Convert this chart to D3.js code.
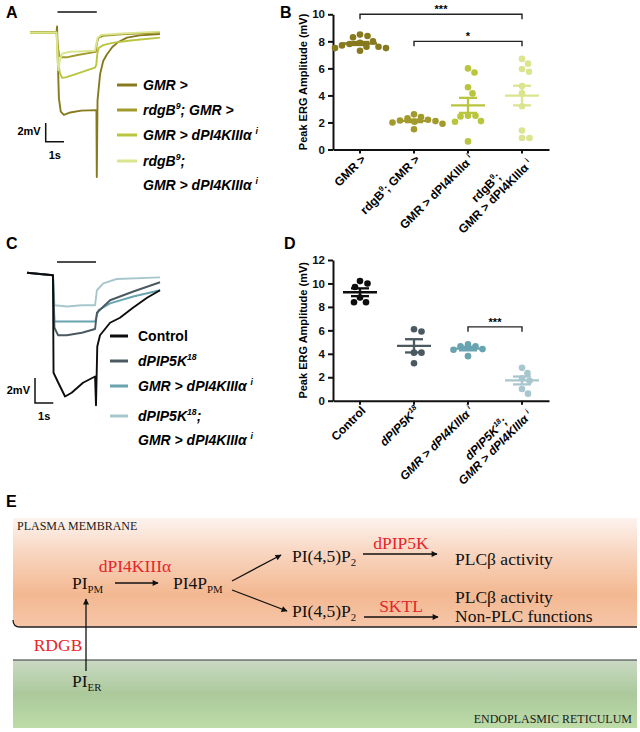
<!DOCTYPE html>
<html>
<head>
<meta charset="utf-8">
<script src="https://cdn.jsdelivr.net/npm/d3@7"></script>
<style>
  body { margin: 0; background: #fff; }
  svg { display: block; font-family: "Liberation Sans", Arial, sans-serif; }
</style>
</head>
<body>
<script>
// ---------- A: ERG traces, [time (s), response (mV)] ----------
var traceGMR = [[0,0],[1.45,0.05],[1.48,0.7],[1.52,-3],[1.58,-7],[1.68,-8.4],[1.85,-8.75],[2.2,-8.5],[2.8,-8.3],[3.6,-8.25],[3.63,-8.3],[3.65,-15.4],[3.69,-7.2],[3.83,-4.4],[4.0,-3.0],[4.2,-2.3],[4.5,-1.5],[4.8,-1.0],[5.3,-0.5],[6.0,-0.25],[7.1,-0.1]];
var traceRdgB = [[0,0.1],[1.45,0.1],[1.52,-1.5],[1.6,-2.4],[1.7,-2.6],[2.0,-2.6],[2.6,-2.35],[3.2,-2.15],[3.6,-2.0],[3.66,-1.0],[3.75,-0.5],[4.0,-0.3],[5.0,-0.15],[7.1,0.05]];
var tracePI4K = [[0,0],[1.45,0],[1.52,-2.5],[1.62,-4.2],[1.75,-4.8],[1.95,-4.75],[2.5,-4.4],[3.1,-4.0],[3.55,-3.7],[3.62,-3.4],[3.68,-2.2],[3.75,-1.6],[4.0,-1.3],[4.5,-1.05],[5.5,-0.8],[7.1,-0.5]];
var traceRdgBPI4K = [[0,0.05],[1.45,0.05],[1.5,-2.5],[1.55,-4.0],[1.62,-3.0],[1.75,-2.2],[2.2,-2.0],[3.0,-1.95],[3.55,-1.9],[3.62,-1.2],[3.7,-0.5],[3.9,-0.2],[5.0,-0.05],[7.1,0.15]];
var legendA = ["GMR >", "rdgB^9^; GMR >", "GMR > dPI4KIIIα ^i^", "rdgB^9^;|GMR > dPI4KIIIα ^i^"];
var colorsA = ["#877a1e", "#a29a2c", "#bac53f", "#dbe48e"];

// ---------- C: ERG traces ----------
var traceControl = [[0,0.1],[1.42,-0.1],[1.45,-7.9],[1.71,-8.7],[2.08,-9.8],[2.44,-9.5],[3.06,-8.7],[3.72,-8.2],[3.77,-10.5],[3.84,-5.8],[3.99,-4.9],[4.54,-3.9],[5.08,-3.5],[5.79,-2.7],[6.56,-1.9],[7.27,-1.3]];
var tracePIP5K = [[0,0.1],[1.42,-0.1],[1.5,-4.3],[1.7,-4.9],[2.17,-4.9],[3.0,-4.7],[3.72,-4.4],[3.82,-3.1],[4.54,-2.1],[5.81,-1.4],[7.27,-0.66]];
var tracePI4Ki = [[0,0.1],[1.42,-0.1],[1.5,-3.8],[2.5,-3.8],[3.72,-3.8],[3.9,-2.9],[4.54,-2.35],[5.81,-1.8],[7.27,-1.3]];
var tracePIP5KPI4K = [[0,0.1],[1.42,-0.1],[1.5,-2.5],[2.2,-2.6],[3.0,-2.5],[3.72,-2.5],[3.82,-1.3],[4.17,-0.75],[4.9,-0.4],[7.27,-0.27]];
var legendC = ["Control", "dPIP5K^18^", "GMR > dPI4KIIIα ^i^", "dPIP5K^18^;|GMR > dPI4KIIIα ^i^"];
var colorsC = ["#0d0d0d", "#4a5a60", "#68a3b0", "#a8c6cd"];

// ---------- B: peak ERG amplitude (mV) ----------
var catsB = ["GMR >", "rdgB^9^; GMR >", "GMR > dPI4KIIIα ^i^", "rdgB^9^;|GMR > dPI4KIIIα ^i^"];
var peakGMR = [8.4, 8.5, 8.3, 8.0, 7.9, 7.8, 7.6, 7.5, 7.3, 7.5, 7.6, 7.7];
var peakRdgB = [2.6, 2.4, 2.3, 2.2, 2.15, 2.1, 2.05, 2.0, 1.9, 1.5];
var peakPI4K = [6.0, 5.7, 4.6, 4.15, 2.5, 2.5, 2.45, 2.1, 2.05, 0.6];
var peakRdgBPI4K = [6.7, 6.35, 5.95, 5.75, 4.7, 4.15, 3.2, 1.4, 0.85, 0.85];
var ticksB = [0, 2, 4, 6, 8, 10];
var sigB = [{ from: 0, to: 3, at: 10, label: "***" }, { from: 1, to: 3, at: 8, label: "*" }];

// ---------- D: peak ERG amplitude (mV) ----------
var catsD = ["Control", "dPIP5K^18^", "GMR > dPI4KIIIα ^i^", "dPIP5K^18^;|GMR > dPI4KIIIα ^i^"];
var peakControl = [10.0, 10.2, 9.7, 8.8, 8.4, 8.4];
var peakPIP5K = [6.1, 5.9, 4.1, 4.1, 3.2];
var peakPI4Ki = [4.8, 4.65, 4.65, 4.4, 4.35, 3.8];
var peakPIP5KPI4K = [2.8, 2.35, 1.9, 1.7, 1.0, 0.6];
var ticksD = [0, 2, 4, 6, 8, 10, 12];
var sigD = [{ from: 2, to: 3, at: 6.3, label: "***" }];

var W = 640, H = 732;
var svg = d3.select('body').append('svg').attr('width', W).attr('height', H);
var defs = svg.append('defs');

// text with ^sup^ and _sub_ pieces
function rich(sel, str, fs) {
  var parts = str.split(/(\^[^\^]*\^|_[^_]*_)/).filter(function (s) { return s.length; });
  var shift = 0;
  parts.forEach(function (p) {
    var txt = p, target = 0, small = false;
    if (p[0] === '^') { txt = p.slice(1, -1); target = -fs * 0.42; small = true; }
    else if (p[0] === '_') { txt = p.slice(1, -1); target = fs * 0.22; small = true; }
    var ts = sel.append('tspan').attr('dy', (target - shift).toFixed(2)).text(txt);
    if (small) ts.attr('font-size', (fs * 0.62).toFixed(1));
    shift = target;
  });
  return sel;
}

function panelLabel(t, x, y) {
  svg.append('text').attr('x', x).attr('y', y).attr('font-size', 16).attr('font-weight', 'bold').text(t);
}

// ---------- trace panels ----------
function tracePanel(o) {
  var x = d3.scaleLinear().domain([0, 1]).range([o.x0, o.x0 + o.pxSec]);
  var y = d3.scaleLinear().domain([0, -1]).range([o.y0, o.y0 + o.pxMv]);
  var line = d3.line().x(function (d) { return x(d[0]); }).y(function (d) { return y(d[1]); });
  var g = svg.append('g');

  o.order.forEach(function (i) {
    g.append('path').attr('d', line(o.traces[i])).attr('fill', 'none')
      .attr('stroke', o.colors[i]).attr('stroke-width', 1.9).attr('stroke-linejoin', 'round');
  });

  // light stimulus
  g.append('line').attr('x1', x(o.stim[0])).attr('x2', x(o.stim[1]))
    .attr('y1', o.stimY).attr('y2', o.stimY).attr('stroke', '#111').attr('stroke-width', 1.6);

  // scale bar 2 mV / 1 s
  var bx = o.bar[0], by = o.bar[1];
  var lx = x(1) - x(0), ly = y(-2) - y(0);
  g.append('path').attr('d', 'M' + bx + ',' + (by - ly) + 'V' + by + 'H' + (bx + lx))
    .attr('fill', 'none').attr('stroke', '#111').attr('stroke-width', 1.5);
  g.append('text').attr('x', bx - 5).attr('y', by - ly / 2 + 3).attr('text-anchor', 'end')
    .attr('font-size', 11).attr('font-weight', 'bold').text('2mV');
  g.append('text').attr('x', bx + lx / 2).attr('y', by + 17).attr('text-anchor', 'middle')
    .attr('font-size', 11).attr('font-weight', 'bold').text('1s');

  // legend
  o.legend.forEach(function (lab, i) {
    var rowY = o.legRows[i];
    var lines = lab.split('|');
    g.append('line').attr('x1', o.legX[0]).attr('x2', o.legX[1]).attr('y1', rowY).attr('y2', rowY)
      .attr('stroke', o.colors[i]).attr('stroke-width', 3);
    lines.forEach(function (l, k) {
      var t = g.append('text').attr('x', o.legX[2]).attr('y', rowY + 5 + k * 23.5)
        .attr('font-size', 14).attr('font-weight', 'bold')
        .attr('font-style', o.legItalic[i] ? 'italic' : 'normal');
      rich(t, l, 14);
    });
  });
}

tracePanel({
  traces: [traceGMR, traceRdgB, tracePI4K, traceRdgBPI4K], colors: colorsA, order: [0, 1, 2, 3],
  x0: 30, pxSec: 18.3, y0: 33, pxMv: 9.35,
  stim: [1.5, 3.65], stimY: 12, bar: [45.7, 141.7],
  legend: legendA, legItalic: [true, true, true, true], legX: [117, 137, 143], legRows: [85, 110, 135, 161]
});

tracePanel({
  traces: [traceControl, tracePIP5K, tracePI4Ki, tracePIP5KPI4K], colors: colorsC, order: [3, 2, 1, 0],
  x0: 27, pxSec: 18.3, y0: 274, pxMv: 12.5,
  stim: [1.64, 3.77], stimY: 262, bar: [35, 403],
  legend: legendC, legItalic: [false, true, true, true], legX: [110, 128, 138], legRows: [336, 361, 386, 416]
});

// ---------- dot plot panels ----------
function dodge(vals, y, cx, r) {
  var pts = vals.map(function (v) { return { v: v, y: y(v) }; })
    .sort(function (a, b) { return d3.descending(a.v, b.v); });
  var placed = [], minD = 2 * r + 0.8;
  pts.forEach(function (p) {
    for (var k = 0; k < 400; k++) {
      var off = (k % 2 ? 1 : -1) * Math.ceil(k / 2) * 0.5;
      var ok = placed.every(function (q) { return Math.hypot(q.x - (cx + off), q.y - p.y) >= minD; });
      if (ok) { p.x = cx + off; break; }
    }
    placed.push(p);
  });
  return placed;
}

function dotPanel(o) {
  var g = svg.append('g');
  var x = d3.scaleBand().domain(d3.range(o.cats.length)).range([333, 549]);
  var y = d3.scaleLinear().domain([0, o.yMax]).range([o.y0, o.yTop]);
  var cx = function (i) { return x(i) + x.bandwidth() / 2; };

  var ya = g.append('g').attr('transform', 'translate(333,0)')
    .call(d3.axisLeft(y).tickValues(o.ticks).tickSize(5).tickSizeOuter(0).tickPadding(3));
  var xa = g.append('g').attr('transform', 'translate(0,' + o.y0 + ')')
    .call(d3.axisBottom(x).tickSize(4).tickSizeOuter(0).tickFormat(''));
  [ya, xa].forEach(function (a) {
    a.select('.domain').attr('stroke', '#111').attr('stroke-width', 2);
    a.selectAll('.tick line').attr('stroke', '#111').attr('stroke-width', 2);
    a.selectAll('.tick text').attr('font-size', 11.5).attr('font-weight', 'bold')
      .attr('font-family', '"Liberation Sans", Arial, sans-serif').attr('fill', '#111');
  });

  g.append('text').attr('transform', 'translate(' + o.titleX + ',' + ((o.y0 + o.yTop) / 2) + ') rotate(-90)')
    .attr('text-anchor', 'middle').attr('font-size', 11).attr('font-weight', 'bold')
    .text('Peak ERG Amplitude (mV)');

  o.values.forEach(function (vals, i) {
    var c = cx(i);
    dodge(vals, y, c, 3.3).forEach(function (p) {
      g.append('circle').attr('cx', p.x).attr('cy', p.y).attr('r', 3.3).attr('fill', o.colors[i]);
    });
    var m = d3.mean(vals), se = d3.deviation(vals) / Math.sqrt(vals.length);
    var seg = function (x1, y1, x2, y2) {
      g.append('line').attr('x1', x1).attr('y1', y1).attr('x2', x2).attr('y2', y2)
        .attr('stroke', o.colors[i]).attr('stroke-width', 2.3);
    };
    seg(c - 17, y(m), c + 17, y(m));
    seg(c - 9, y(m + se), c + 9, y(m + se));
    seg(c - 9, y(m - se), c + 9, y(m - se));
    seg(c, y(m + se), c, y(m - se));
  });

  o.sig.forEach(function (s) {
    var yy = y(s.at);
    g.append('path').attr('d', 'M' + cx(s.from) + ',' + (yy + 5) + 'V' + yy + 'H' + cx(s.to) + 'V' + (yy + 5))
      .attr('fill', 'none').attr('stroke', '#222').attr('stroke-width', 1.4);
    g.append('text').attr('x', (cx(s.from) + cx(s.to)) / 2).attr('y', yy - 1).attr('text-anchor', 'middle')
      .attr('font-size', 11).attr('font-weight', 'bold').text(s.label);
  });

  // rotated category labels
  o.cats.forEach(function (lab, i) {
    var lg = g.append('g').attr('transform', 'translate(' + cx(i) + ',' + o.y0 + ') rotate(-45)');
    var lines = lab.split('|');
    var texts = lines.map(function (l) {
      var t = lg.append('text').attr('font-size', 12).attr('font-weight', 'bold')
        .attr('font-style', o.italic[i] ? 'italic' : 'normal').attr('text-anchor', 'middle');
      return rich(t, l, 12);
    });
    var wmax = d3.max(texts, function (t) { return t.node().getComputedTextLength(); });
    var n = lines.length;
    texts.forEach(function (t, k) {
      t.attr('x', -wmax / 2 - 3).attr('y', 12 + (k - (n - 1) / 2) * 13);
    });
  });
}

dotPanel({
  cats: catsB, values: [peakGMR, peakRdgB, peakPI4K, peakRdgBPI4K], colors: colorsA,
  italic: [false, false, false, false], yMax: 10, ticks: ticksB, y0: 149.5, yTop: 14.3,
  titleX: 307, sig: sigB
});

dotPanel({
  cats: catsD, values: [peakControl, peakPIP5K, peakPI4Ki, peakPIP5KPI4K], colors: colorsC,
  italic: [false, true, true, true], yMax: 12, ticks: ticksD, y0: 400.7, yTop: 260,
  titleX: 307, sig: sigD
});

panelLabel('A', 6, 18);
panelLabel('B', 280, 18);
panelLabel('C', 6, 249);
panelLabel('D', 284, 249);
panelLabel('E', 6, 507);

// ---------- E: pathway diagram ----------
var species = [
  { t: "PI_PM_", x: 72, y: 589 }, { t: "PI4P_PM_", x: 173, y: 589 },
  { t: "PI(4,5)P_2_", x: 292, y: 562 }, { t: "PI(4,5)P_2_", x: 292, y: 617 },
  { t: "PLCβ activity", x: 455, y: 565 }, { t: "PLCβ activity", x: 455, y: 603 },
  { t: "Non-PLC functions", x: 455, y: 622 }, { t: "PI_ER_", x: 72, y: 687 }
];
var enzymes = [
  { t: "dPI4KIIIα", x: 135, y: 572 }, { t: "dPIP5K", x: 401, y: 549 },
  { t: "SKTL", x: 401, y: 612 }, { t: "RDGB", x: 58, y: 651 }
];
var arrows = [[115, 583, 158, 583], [232, 581, 281, 555], [232, 590, 287, 611],
  [363, 554, 437, 554], [364, 617, 438, 617], [86, 671, 86, 599]];

var pm = defs.append('linearGradient').attr('id', 'pm').attr('x1', 0).attr('y1', 0).attr('x2', 0).attr('y2', 1);
[[0, '#fdf3ee'], [0.35, '#f8d3bc'], [0.7, '#f3b891'], [1, '#f6c6a8']].forEach(function (s) {
  pm.append('stop').attr('offset', s[0]).attr('stop-color', s[1]);
});
var er = defs.append('linearGradient').attr('id', 'er').attr('x1', 0).attr('y1', 0).attr('x2', 0).attr('y2', 1);
[[0, '#cad9c4'], [0.5, '#abc99b'], [1, '#bddca8']].forEach(function (s) {
  er.append('stop').attr('offset', s[0]).attr('stop-color', s[1]);
});
var mk = defs.append('marker').attr('id', 'ah').attr('viewBox', '0 0 10 10').attr('refX', 9).attr('refY', 5)
  .attr('markerWidth', 7).attr('markerHeight', 6).attr('markerUnits', 'userSpaceOnUse').attr('orient', 'auto');
mk.append('path').attr('d', 'M0,0L10,5L0,10z').attr('fill', '#111');

var eg = svg.append('g').attr('font-family', '"Liberation Serif", "DejaVu Serif", serif');
eg.append('path').attr('d', 'M13,518H637V627H20Q13,627 13,620Z').attr('fill', 'url(#pm)');
eg.append('path').attr('d', 'M13,620Q13,627 20,627H637').attr('fill', 'none').attr('stroke', '#222').attr('stroke-width', 1.3);
eg.append('rect').attr('x', 13).attr('y', 660).attr('width', 624).attr('height', 68).attr('fill', 'url(#er)');
eg.append('line').attr('x1', 13).attr('x2', 637).attr('y1', 660).attr('y2', 660).attr('stroke', '#333').attr('stroke-width', 1.2);

eg.append('text').attr('x', 17).attr('y', 530).attr('font-size', 12).attr('fill', '#1a1a1a').text('PLASMA MEMBRANE');
eg.append('text').attr('x', 632).attr('y', 723).attr('font-size', 12).attr('fill', '#1a1a1a')
  .attr('text-anchor', 'end').text('ENDOPLASMIC RETICULUM');

species.forEach(function (s) {
  rich(eg.append('text').attr('x', s.x).attr('y', s.y).attr('font-size', 17.5).attr('fill', '#111'), s.t, 17.5);
});
enzymes.forEach(function (s) {
  eg.append('text').attr('x', s.x).attr('y', s.y).attr('text-anchor', 'middle').attr('font-size', 17.5)
    .attr('fill', '#e5262a').text(s.t);
});
arrows.forEach(function (a) {
  eg.append('line').attr('x1', a[0]).attr('y1', a[1]).attr('x2', a[2]).attr('y2', a[3])
    .attr('stroke', '#111').attr('stroke-width', 1.3).attr('marker-end', 'url(#ah)');
});
</script>
</body>
</html>
